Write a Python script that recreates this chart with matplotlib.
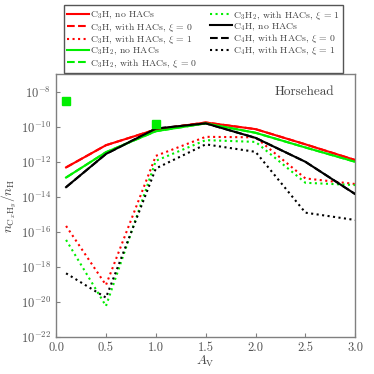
import numpy as np
import matplotlib
matplotlib.use("Agg")
import matplotlib.pyplot as plt

plt.rcParams['font.family'] = 'cmr10'
plt.rcParams['mathtext.fontset'] = 'cm'
plt.rcParams['axes.formatter.use_mathtext'] = True

av = [0.1, 0.5, 1.0, 1.5, 2.0, 2.5, 3.0]

# log10 abundances
c3h_no = [-12.32, -11.05, -10.15, -9.75, -10.13, -11.0, -11.9]
c3h_x0 = c3h_no
c3h_x1 = [-15.67, -19.05, -11.66, -10.57, -10.6, -12.95, -13.27]
c3h2_no = [-12.9, -11.45, -10.25, -9.8, -10.34, -11.18, -12.0]
c3h2_x0 = c3h2_no
c3h2_x1 = [-16.47, -20.25, -11.94, -10.76, -10.86, -13.2, -13.33]
c4h_no = [-13.45, -11.55, -10.1, -9.8, -10.63, -12.0, -13.85]
c4h_x0 = c4h_no
c4h_x1 = [-18.38, -19.77, -12.38, -11.0, -11.43, -14.91, -15.33]

obs_av = [0.1, 1.0]
obs_c3h2 = [-8.51, -9.86]

labels = [r'C$_3$H, no HACs', r'C$_3$H, with HACs, $\xi$ = 0', r'C$_3$H, with HACs, $\xi$ = 1',
          r'C$_3$H$_2$, no HACs', r'C$_3$H$_2$, with HACs, $\xi$ = 0', r'C$_3$H$_2$, with HACs, $\xi$ = 1',
          r'C$_4$H, no HACs', r'C$_4$H, with HACs, $\xi$ = 0', r'C$_4$H, with HACs, $\xi$ = 1']

fig = plt.figure(figsize=(3.74, 3.74), dpi=100)
ax = fig.add_axes([0.150, 0.100, 0.800, 0.701])

series = [(c3h_no, 'red', '-'), (c3h_x0, 'red', '--'), (c3h_x1, 'red', ':'),
          (c3h2_no, '#00ee00', '-'), (c3h2_x0, '#00ee00', '--'), (c3h2_x1, '#00ee00', ':'),
          (c4h_no, 'black', '-'), (c4h_x0, 'black', '--'), (c4h_x1, 'black', ':')]
handles = []
for (vals, col, ls), lab in zip(series, labels):
    z = 3 if ls == '-' else 2
    h, = ax.plot(av, 10.0 ** np.array(vals), color=col, ls=ls, lw=1.5, label=lab, zorder=z)
    handles.append(h)

ax.plot(obs_av, 10.0 ** np.array(obs_c3h2), 's', color='#00ee00', ms=5.5, zorder=4)

ax.set_yscale('log')
ax.set_xlim(0, 3)
ax.set_ylim(1e-22, 1e-7)
ax.set_yticks([10.0 ** k for k in range(-22, -7, 2)])
ax.minorticks_off()
ax.set_xticks([0, 0.5, 1.0, 1.5, 2.0, 2.5, 3.0])
ax.set_xticklabels(['0.0', '0.5', '1.0', '1.5', '2.0', '2.5', '3.0'])
for s in ax.spines.values():
    s.set_color('#808080')
    s.set_linewidth(1.0)
ax.tick_params(direction='in', length=3, color='#808080', labelcolor='#555555', labelsize=9)
ax.set_xlabel(r'$A_{\rm V}$', fontsize=9.5, color='#444444', labelpad=0)
ax.set_ylabel(r'$n_{\mathrm{C}_x\mathrm{H}_y}/n_{\mathrm{H}}$', fontsize=9.5, color='#444444', labelpad=1)
ax.text(0.83, 0.955, 'Horsehead', transform=ax.transAxes, ha='center', va='top', fontsize=9.5, color='#444444')

fig.legend(handles=handles, loc='upper center', bbox_to_anchor=(0.544, 0.986), ncol=2,
           fontsize=7, frameon=True, fancybox=False, edgecolor='#555555', framealpha=1,
           handlelength=2.3, handletextpad=0.05, labelspacing=-0.06, columnspacing=1.3,
           borderpad=0.35, borderaxespad=0, labelcolor='#444444')

fig.savefig('out.png', dpi=100)
